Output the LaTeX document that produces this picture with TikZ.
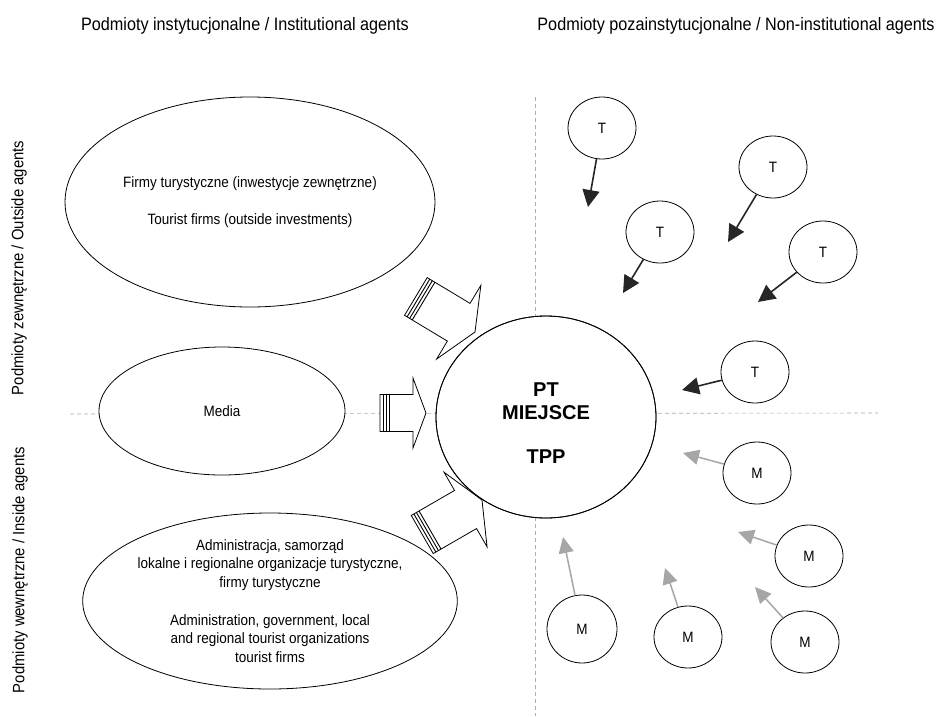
\documentclass[tikz,border=0pt]{standalone}
\usepackage{fontspec}
\setmainfont{Liberation Sans}[FakeStretch=0.9]
\newfontfamily\ctrfont{Liberation Sans}
\usetikzlibrary{shapes.geometric,arrows.meta}
\newcommand\fatarrow[7]{%
  \begin{scope}[shift={(#1,#2)},rotate=#3]
    \filldraw[fill=white,line width=0.8pt] (0,0) -- (-#7,#6) -- (-#7,#5) -- ({-#7-#4},#5) -- ({-#7-#4},-#5) -- (-#7,-#5) -- (-#7,-#6) -- cycle;
    \foreach \s in {3,6,9}{\draw[line width=0.9pt] ({-#7-#4+\s},#5) -- ({-#7-#4+\s},-#5);}
  \end{scope}}
\begin{document}
\begin{tikzpicture}[x=1pt,y=-1pt,
  guide/.style={draw=gray!65,line width=0.6pt,dash pattern=on 4pt off 3pt},
  agent/.style={ellipse,draw,line width=0.8pt,fill=white,inner sep=0pt},
  txt/.style={font=\fontsize{15}{18.5}\selectfont,align=center},
  small/.style={agent,minimum width=68pt,minimum height=62pt,font=\fontsize{15}{18}\selectfont},
  tarrow/.style={draw=black!85,line width=1.6pt,-{Triangle[length=17pt,width=17pt]}},
  marrow/.style={draw=black!35,line width=1.5pt,-{Triangle[length=16pt,width=15pt]}},
  hdr/.style={font=\fontsize{18}{21}\selectfont,anchor=base},
  side/.style={font=\fontsize{16.5}{19}\selectfont,rotate=90}]
\useasboundingbox (0,0) rectangle (938,716);
\fill[white] (0,0) rectangle (938,716);

% headers and side labels
\node[hdr] (h1) at (245,30) {Podmioty instytucjonalne /  Institutional agents};
\node[hdr] (h2) at (736,30) {Podmioty pozainstytucjonalne / Non-institutional agents};
\node[side] (s1) at (19,268) {Podmioty zewnętrzne /  Outside agents};
\node[side] (s2) at (20,570) {Podmioty wewnętrzne / Inside agents};

% guide lines
\coordinate (vtop) at (535,97);
\coordinate (vbot) at (535,716);
\coordinate (hl) at (70,414);
\coordinate (hr) at (878,413);
\draw[guide] (vtop) -- (vbot);
\draw[guide] (hl) -- (hr);

% institutional agents
\node[agent,txt,minimum width=370pt,minimum height=210pt] (firms) at (250,202)
  {Firmy turystyczne (inwestycje zewnętrzne)\\[19pt]Tourist firms (outside investments)};
\node[agent,txt,minimum width=246pt,minimum height=128pt] (media) at (222,411) {Media};
\node[agent,txt,minimum width=336pt,minimum height=176pt] (admin) at (270,601)
  {Administracja, samorząd\\lokalne i regionalne organizacje turystyczne,\\firmy turystyczne\\[19.5pt]Administration, government, local\\and regional tourist organizations\\tourist firms};

% place
\node[agent,minimum width=220pt,minimum height=202pt] (pt) at (546,417) {};
\node[font=\ctrfont\bfseries\fontsize{20}{23}\selectfont,align=center] (ptlabel) at (546,423) {PT\\MIEJSCE\\[21pt]TPP};

% block arrows
\fatarrow{426}{413}{0}{33}{18.5}{35}{13}
\fatarrow{475}{332}{-31}{50}{22}{43}{19}
\fatarrow{482}{500}{30}{50}{22}{43}{19}
\draw[line width=0.8pt] (pt) ellipse[x radius=110pt,y radius=101pt];

% tourists
\node[small] (t1) at (602,128) {T};
\node[small] (t2) at (773,167) {T};
\node[small] (t3) at (660,232) {T};
\node[small] (t4) at (823,252) {T};
\node[small] (t5) at (755,372) {T};
\coordinate (t1e) at (588,207);
\coordinate (t2e) at (728,242);
\coordinate (t3e) at (623,293);
\coordinate (t4e) at (758,302);
\coordinate (t5e) at (682,390);
\foreach \i in {1,...,5}{\draw[tarrow] (t\i) -- (t\i e);}

% residents
\node[small] (m1) at (757,473) {M};
\node[small] (m2) at (809,556) {M};
\node[small,minimum width=70pt,minimum height=68pt] (m3) at (582,629) {M};
\node[small] (m4) at (688,637) {M};
\node[small] (m5) at (805,642) {M};
\coordinate (m1e) at (683,453);
\coordinate (m2e) at (738,532);
\coordinate (m3e) at (563,537);
\coordinate (m4e) at (665,568);
\coordinate (m5e) at (755,587);
\foreach \i in {1,...,5}{\draw[marrow] (m\i) -- (m\i e);}
\end{tikzpicture}
\end{document}
